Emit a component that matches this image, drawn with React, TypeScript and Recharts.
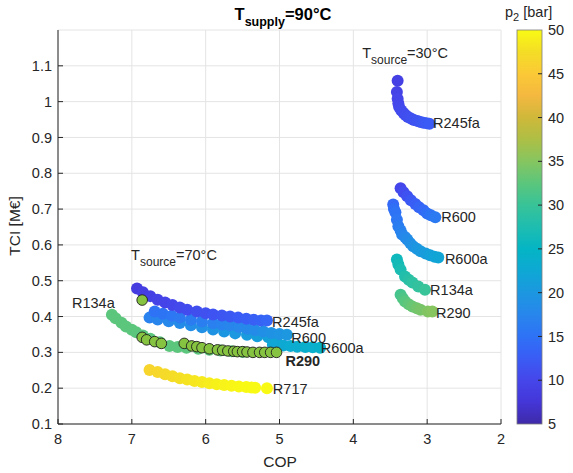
import React from "react";
import { ScatterChart, Scatter, XAxis, YAxis, CartesianGrid } from "recharts";

const W = 573;
const H = 473;
const FONT = '"Liberation Sans", Arial, Helvetica, sans-serif';
const INK = "#262626";

const COP_TICKS = [8, 7, 6, 5, 4, 3, 2];
const TCI_TICKS = [0.1, 0.2, 0.3, 0.4, 0.5, 0.6, 0.7, 0.8, 0.9, 1, 1.1];
const P2_TICKS = [5, 10, 15, 20, 25, 30, 35, 40, 45, 50];

// rows are [COP, TCI in M€, p2 in bar]
// T_source = 30°C
const R245FA_30 = [
  [3.40, 1.058, 9], [3.41, 1.027, 9.5], [3.40, 1.008, 9.8], [3.39, 0.995, 10], [3.38, 0.985, 10.2],
  [3.35, 0.975, 10.4], [3.32, 0.968, 10.6], [3.29, 0.962, 10.8], [3.26, 0.957, 11], [3.22, 0.953, 11.2],
  [3.18, 0.949, 11.4], [3.13, 0.946, 11.6], [3.09, 0.943, 11.8], [3.05, 0.941, 12], [3.01, 0.940, 12.2],
  [2.97, 0.938, 12.4],
];
const R600_30 = [
  [3.36, 0.758, 10], [3.32, 0.747, 10.6], [3.27, 0.736, 11.3], [3.22, 0.725, 12], [3.16, 0.714, 12.7],
  [3.11, 0.705, 13.4], [3.05, 0.697, 14], [3.00, 0.688, 14.7], [2.95, 0.683, 15.3], [2.89, 0.677, 16],
];
const R600A_30 = [
  [3.46, 0.713, 14], [3.45, 0.700, 14.5], [3.43, 0.691, 15], [3.41, 0.670, 15.6], [3.39, 0.652, 16.2],
  [3.36, 0.640, 16.8], [3.34, 0.629, 17.3], [3.30, 0.622, 17.8], [3.27, 0.615, 18.3], [3.23, 0.605, 18.8],
  [3.19, 0.596, 19.3], [3.14, 0.589, 19.8], [3.09, 0.582, 20.3], [3.02, 0.576, 20.8], [2.96, 0.571, 21.3],
  [2.90, 0.567, 21.7], [2.85, 0.565, 22],
];
const R134A_30 = [
  [3.41, 0.559, 26], [3.39, 0.545, 26.6], [3.36, 0.531, 27.2], [3.30, 0.512, 27.9], [3.25, 0.503, 28.5],
  [3.20, 0.495, 29], [3.12, 0.484, 29.5], [3.03, 0.475, 30],
];
const R290_30 = [
  [3.36, 0.461, 31], [3.33, 0.451, 31.6], [3.30, 0.442, 32.2], [3.25, 0.434, 32.8], [3.20, 0.428, 33.3],
  [3.14, 0.423, 33.8], [3.09, 0.419, 34.2], [2.99, 0.414, 34.7], [2.93, 0.414, 35],
];

// T_source = 70°C
const R245FA_70 = [
  [6.93, 0.478, 8.5], [6.85, 0.468, 8.8], [6.75, 0.457, 9.1], [6.65, 0.447, 9.4], [6.55, 0.439, 9.7],
  [6.45, 0.432, 10], [6.35, 0.425, 10.3], [6.25, 0.419, 10.6], [6.12, 0.414, 10.9], [6.00, 0.409, 11.2],
  [5.90, 0.406, 11.5], [5.78, 0.403, 11.8], [5.67, 0.400, 12.1], [5.56, 0.397, 12.4], [5.45, 0.394, 12.7],
  [5.35, 0.391, 13], [5.25, 0.389, 13.3], [5.17, 0.389, 13.6],
];
const R600_70 = [
  [6.69, 0.414, 15], [6.58, 0.408, 15.3], [6.46, 0.402, 15.6], [6.35, 0.397, 15.9], [6.20, 0.391, 16.2],
  [6.05, 0.386, 16.5], [5.90, 0.381, 16.8], [5.78, 0.378, 17.1], [5.67, 0.376, 17.4], [5.55, 0.371, 17.7],
  [5.44, 0.366, 18], [5.33, 0.362, 18.4], [5.22, 0.358, 18.8], [5.11, 0.354, 19.2], [5.00, 0.351, 19.6],
  [4.90, 0.349, 20],
];
const R600A_70 = [
  [6.76, 0.397, 17], [6.65, 0.392, 17.4], [6.50, 0.387, 17.8], [6.35, 0.382, 18.2], [6.20, 0.376, 18.6],
  [6.05, 0.370, 19], [5.90, 0.364, 19.4], [5.75, 0.358, 19.8], [5.60, 0.353, 20.2], [5.44, 0.349, 20.6],
  [5.30, 0.345, 21], [5.15, 0.342, 21.4], [5.04, 0.341, 21.8], [5.09, 0.321, 22.2], [4.95, 0.319, 22.6],
  [4.85, 0.318, 23], [4.76, 0.316, 23.3], [4.65, 0.315, 23.6], [4.55, 0.314, 23.8], [4.45, 0.313, 24],
];
const R134A_70 = [
  [7.27, 0.405, 32.5], [7.22, 0.395, 32.5], [7.14, 0.383, 32.5], [7.08, 0.372, 32.5], [7.00, 0.363, 32.5],
  [6.94, 0.356, 32.5], [6.85, 0.347, 32.5], [6.75, 0.338, 32.5], [6.62, 0.328, 32.5], [6.49, 0.318, 32.5],
  [6.38, 0.315, 32.5], [6.26, 0.313, 32.5], [6.10, 0.310, 32.5], [5.95, 0.307, 32.5], [5.80, 0.305, 32.5],
  [5.65, 0.303, 32.5], [5.50, 0.301, 32.5],
];
const R290_70 = [
  [6.86, 0.446], [6.86, 0.342], [6.80, 0.335], [6.69, 0.330], [6.60, 0.325], [6.29, 0.325],
  [6.19, 0.318], [6.12, 0.316], [6.05, 0.313], [5.95, 0.310], [5.84, 0.307], [5.77, 0.306],
  [5.70, 0.304], [5.62, 0.303], [5.57, 0.302], [5.50, 0.302], [5.44, 0.301], [5.36, 0.300],
  [5.27, 0.300], [5.20, 0.300], [5.12, 0.300], [5.04, 0.300],
];
const R717_70 = [
  [6.76, 0.251, 46.5], [6.65, 0.245, 46.8], [6.55, 0.239, 47.1], [6.45, 0.233, 47.4], [6.35, 0.228, 47.7],
  [6.25, 0.224, 48], [6.15, 0.220, 48.3], [6.05, 0.217, 48.6], [5.95, 0.214, 48.9], [5.85, 0.211, 49.2],
  [5.75, 0.209, 49.4], [5.65, 0.207, 49.6], [5.55, 0.205, 49.8], [5.45, 0.203, 50], [5.38, 0.202, 50],
  [5.33, 0.201, 50], [5.17, 0.200, 50],
];

const FLUID_LABELS = [
  { name: "R245fa", cop: 2.92, tci: 0.94 },
  { name: "R600", cop: 2.81, tci: 0.677 },
  { name: "R600a", cop: 2.76, tci: 0.562 },
  { name: "R134a", cop: 2.96, tci: 0.473 },
  { name: "R290", cop: 2.88, tci: 0.411 },
  { name: "R134a", cop: 7.81, tci: 0.439 },
  { name: "R245fa", cop: 5.1, tci: 0.386 },
  { name: "R600", cop: 4.84, tci: 0.341 },
  { name: "R600a", cop: 4.44, tci: 0.313 },
  { name: "R290", cop: 4.92, tci: 0.276, bold: true },
  { name: "R717", cop: 5.09, tci: 0.198 },
];

const SOURCE_NOTES = [
  { temp: "=70°C", cop: 7.01, tci: 0.559 },
  { temp: "=30°C", cop: 3.88, tci: 1.122 },
];

// parula-like colour ramp for p2
const RAMP: [number, string][] = [
  [5, "#3e2aa8"], [7.5, "#4436d8"], [10, "#4546ea"], [12.5, "#3a5cf5"], [15, "#2e72f6"],
  [17.5, "#2886ec"], [20, "#1c97e0"], [22.5, "#0ea8d4"], [25, "#04b5c4"], [27.5, "#1ebdb0"],
  [30, "#38c398"], [32.5, "#5bc67c"], [35, "#86c560"], [37.5, "#adbf45"], [40, "#cfb83a"],
  [42.5, "#f4b840"], [45, "#fbc936"], [47.5, "#f4dd26"], [50, "#f9fa14"],
];

function hexRgb(h: string) {
  const n = parseInt(h.slice(1), 16);
  return [(n >> 16) & 255, (n >> 8) & 255, n & 255];
}

function p2Color(p: number) {
  if (p <= RAMP[0][0]) return RAMP[0][1];
  for (let i = 1; i < RAMP.length; i++) {
    const [p1, c1] = RAMP[i];
    const [p0, c0] = RAMP[i - 1];
    if (p <= p1) {
      const t = (p - p0) / (p1 - p0);
      const a = hexRgb(c0);
      const b = hexRgb(c1);
      const m = a.map((v, k) => Math.round(v + (b[k] - v) * t));
      return `rgb(${m[0]},${m[1]},${m[2]})`;
    }
  }
  return RAMP[RAMP.length - 1][1];
}

const toPts = (rows: number[][]) => rows.map(([cop, tci, p]) => ({ cop, tci, p }));

const BANDS = [
  R717_70, R134A_70, R600A_70, R600_70, R245FA_70,
  R245FA_30, R600_30, R600A_30, R134A_30, R290_30,
].map(toPts);

const Dot = (props: any) => (
  <circle cx={props.cx} cy={props.cy} r={6} fill={p2Color(props.payload.p)} />
);

const Ring = (props: any) => (
  <circle cx={props.cx} cy={props.cy} r={5.3} fill="#86c340" stroke="#1e1e1e" strokeWidth={0.9} />
);

const FluidLabel = (props: any) => (
  <text
    x={props.cx}
    y={props.cy}
    dy="0.35em"
    fontSize={14.5}
    fontFamily={FONT}
    fontWeight={props.payload.bold ? 700 : 400}
    fill={INK}
  >
    {props.payload.name}
  </text>
);

const SourceNote = (props: any) => (
  <text x={props.cx} y={props.cy} fontSize={14.5} fontFamily={FONT} fill={INK}>
    T
    <tspan dy={6} fontSize={12}>source</tspan>
    <tspan dy={-6}>{props.payload.temp}</tspan>
  </text>
);

const XTick = ({ x, y, payload }: any) => (
  <g>
    <line x1={x} x2={x} y1={y} y2={y - 5} stroke={INK} />
    <text x={x} y={y + 20} textAnchor="middle" fontSize={14.5} fontFamily={FONT} fill={INK}>
      {payload.value}
    </text>
  </g>
);

const YTick = ({ x, y, payload }: any) => (
  <g>
    <line x1={x} x2={x + 5} y1={y} y2={y} stroke={INK} />
    <text x={x - 6} y={y} dy="0.35em" textAnchor="end" fontSize={14.5} fontFamily={FONT} fill={INK}>
      {payload.value}
    </text>
  </g>
);

// colour bar geometry
const CB = { x: 517, y: 30, w: 25, h: 394 };
const cbY = (p: number) => CB.y + CB.h - ((p - 5) / 45) * CB.h;

function ColorBar() {
  return (
    <svg width={W} height={H} style={{ position: "absolute", left: 0, top: 0, pointerEvents: "none" }}>
      <defs>
        <linearGradient id="p2grad" x1="0" y1="1" x2="0" y2="0">
          {RAMP.map(([p, c]) => (
            <stop key={p} offset={(p - 5) / 45} stopColor={c} />
          ))}
        </linearGradient>
      </defs>
      <text x={283} y={20} textAnchor="middle" fontSize={16.5} fontWeight={700} fontFamily={FONT} fill="#000">
        T
        <tspan dy={6} fontSize={12.5}>supply</tspan>
        <tspan dy={-6}>=90°C</tspan>
      </text>
      <text transform="translate(20,226) rotate(-90)" textAnchor="middle" fontSize={15.5} fontFamily={FONT} fill={INK}>
        TCI [M€]
      </text>
      <text x={280} y={467} textAnchor="middle" fontSize={15.5} fontFamily={FONT} fill={INK}>
        COP
      </text>
      <rect x={CB.x} y={CB.y} width={CB.w} height={CB.h} fill="url(#p2grad)" stroke="#7d7d7d" strokeWidth={0.8} />
      {P2_TICKS.map((p) => (
        <g key={p}>
          {p > 5 && p < 50 && (
            <line x1={CB.x + CB.w - 4} x2={CB.x + CB.w} y1={cbY(p)} y2={cbY(p)} stroke={INK} />
          )}
          <text x={CB.x + CB.w + 6} y={cbY(p)} dy="0.35em" fontSize={14.5} fontFamily={FONT} fill={INK}>
            {p}
          </text>
        </g>
      ))}
      <text x={505} y={17} fontSize={14.5} fontFamily={FONT} fill={INK}>
        p
        <tspan dy={4} fontSize={11}>2</tspan>
        <tspan dy={-4}> [bar]</tspan>
      </text>
    </svg>
  );
}

export default function App() {
  return (
    <div style={{ position: "absolute", left: 0, top: 0, width: W, height: H, background: "#fff" }}>
      <ScatterChart width={W} height={H} margin={{ top: 30, right: 72, bottom: 19, left: 18 }}>
        <CartesianGrid stroke="#e4e4e4" />
        <XAxis
          type="number"
          dataKey="cop"
          domain={[2, 8]}
          ticks={COP_TICKS}
          reversed
          height={30}
          tickSize={0}
          tickMargin={0}
          tickLine={false}
          axisLine={{ stroke: INK }}
          tick={<XTick />}
          interval={0}
        />
        <YAxis
          type="number"
          dataKey="tci"
          domain={[0.1, 1.2]}
          ticks={TCI_TICKS}
          width={40}
          tickSize={0}
          tickMargin={0}
          tickLine={false}
          axisLine={{ stroke: INK }}
          tick={<YTick />}
          interval={0}
        />
        {BANDS.map((d, i) => (
          <Scatter key={i} data={d} shape={Dot} isAnimationActive={false} />
        ))}
        <Scatter data={toPts(R290_70)} shape={Ring} isAnimationActive={false} />
        <Scatter data={FLUID_LABELS} shape={FluidLabel} isAnimationActive={false} />
        <Scatter data={SOURCE_NOTES} shape={SourceNote} isAnimationActive={false} />
      </ScatterChart>
      <ColorBar />
    </div>
  );
}
